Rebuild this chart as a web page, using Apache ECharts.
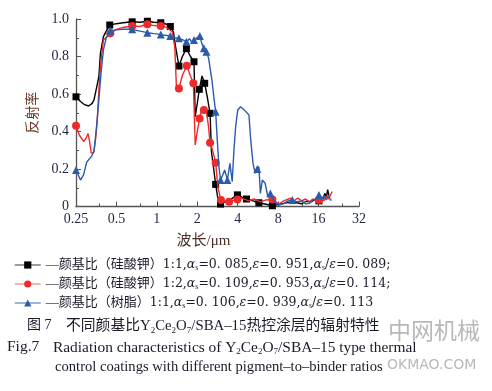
<!DOCTYPE html>
<html><head><meta charset="utf-8">
<script src="https://cdn.jsdelivr.net/npm/echarts@6/dist/echarts.min.js"></script>
<style>html,body{margin:0;padding:0;background:#fff}#c{width:492px;height:391px}</style>
</head><body><div id="c"></div>
<script>
// ---- data ----
const xTickLabels = ['0.25','0.5','1','2','4','8','16','32'];
const yTickLabels = ['0','0.2','0.4','0.6','0.8','1.0'];

// 颜基比(硅酸钾)1:1
const wlA = [0.25,0.27,0.29,0.31,0.33,0.34,0.355,0.37,0.38,0.40,0.43,0.446,0.5,0.56,0.655,0.75,0.85,0.95,1.07,1.15,1.26,1.33,1.38,1.46,1.55,1.66,1.78,1.89,1.93,2.0,2.07,2.17,2.27,2.38,2.49,2.55,2.65,2.74,2.85,2.98,3.2,3.5,3.98,4.3,4.65,5.2,5.75,6.5,7.25,8.0,9,10,11,12,13,14,15,16.1,16.6,17.2,17.8,18.3,18.7,19.1];
const rA  = [0.585,0.56,0.543,0.536,0.55,0.568,0.63,0.692,0.817,0.906,0.95,0.968,0.975,0.98,0.985,0.983,0.988,0.983,0.98,0.975,0.96,0.93,0.85,0.749,0.80,0.842,0.80,0.772,0.479,0.55,0.625,0.696,0.657,0.58,0.497,0.292,0.20,0.118,0.04,0.013,0.025,0.035,0.062,0.05,0.04,0.03,0.02,0.012,0.004,0.01,0.018,0.025,0.02,0.015,0.028,0.025,0.035,0.03,0.05,0.04,0.07,0.05,0.09,0.06];
const markA = [0.25,0.446,0.655,0.85,1.07,1.26,1.46,1.66,1.89,2.07,2.27,2.49,2.74,2.98,3.98,4.65,5.75,7.25,16.1];

// 颜基比(硅酸钾)1:2
const wlB = [0.25,0.265,0.285,0.30,0.307,0.315,0.325,0.34,0.35,0.36,0.37,0.38,0.40,0.45,0.5,0.56,0.655,0.75,0.85,0.95,1.07,1.18,1.30,1.36,1.40,1.46,1.55,1.67,1.77,1.87,1.93,2.0,2.08,2.16,2.24,2.35,2.42,2.49,2.6,2.74,2.85,3.0,3.2,3.45,3.98,4.3,4.8,5.3,5.9,6.5,7.25,8.1,8.8,9.9,10.5,11.2,12,12.8,13.7,14.5,15.3,16.1,16.8,17.5,18.3,19,19.6,20.2];
const rB  = [0.431,0.38,0.346,0.37,0.39,0.35,0.284,0.292,0.36,0.461,0.62,0.746,0.888,0.924,0.945,0.955,0.963,0.96,0.972,0.965,0.963,0.955,0.932,0.85,0.63,0.63,0.70,0.751,0.70,0.657,0.328,0.40,0.47,0.52,0.515,0.50,0.43,0.34,0.30,0.234,0.10,0.035,0.03,0.026,0.038,0.045,0.03,0.04,0.025,0.035,0.038,0.013,0.03,0.044,0.03,0.045,0.03,0.04,0.025,0.04,0.03,0.035,0.045,0.03,0.055,0.04,0.06,0.08];
const markB = [0.25,0.45,0.655,0.85,1.07,1.46,1.67,1.87,2.08,2.24,2.49,2.74,3.0,3.45,3.98,7.25,16.1];

// 颜基比(树脂)1:1
const wlC = [0.25,0.27,0.285,0.30,0.325,0.34,0.355,0.37,0.385,0.40,0.42,0.45,0.5,0.56,0.655,0.75,0.85,0.95,1.07,1.15,1.26,1.36,1.46,1.55,1.66,1.75,1.82,1.89,1.98,2.09,2.16,2.24,2.34,2.43,2.5,2.57,2.66,2.74,2.82,2.9,2.98,3.1,3.2,3.35,3.5,3.64,3.75,3.86,4.0,4.2,4.4,4.6,4.85,5.0,5.2,5.4,5.6,5.75,5.9,6.1,6.4,6.7,7.0,7.5,8.1,8.8,9.5,10.2,11,12,12.8,13.7,14.5,15.3,16.1,16.8,17.5,18.3,19,19.6,20];
const rC  = [0.195,0.141,0.17,0.236,0.266,0.292,0.42,0.568,0.72,0.835,0.90,0.938,0.942,0.945,0.945,0.935,0.927,0.922,0.918,0.913,0.909,0.90,0.897,0.89,0.879,0.895,0.875,0.888,0.90,0.909,0.87,0.844,0.826,0.79,0.73,0.675,0.58,0.506,0.35,0.212,0.141,0.17,0.195,0.141,0.23,0.132,0.30,0.426,0.515,0.532,0.52,0.506,0.488,0.355,0.23,0.177,0.20,0.212,0.07,0.141,0.124,0.052,0.07,0.026,0.008,0.015,0.03,0.035,0.025,0.03,0.015,0.017,0.035,0.04,0.061,0.04,0.055,0.035,0.06,0.035,0.035];
const markC = [0.25,0.45,0.655,0.85,1.07,1.26,1.46,1.66,1.89,2.09,2.24,2.34,2.74,2.98,3.35,5.6,7.0,10.2,16.1];

const names = ['A','B','C'];
const colors = ['#000000','#ee2a2a','#2b5cab'];
const legendLineColors = ['#7a7a7a','#f29a9a','#7f9ccc'];
const symbols = ['rect','circle','triangle'];
const symbolSizes = [7,8,8];
const legendTexts = [
  '—颜基比（硅酸钾）{n|1:1,}{i|α}{s|s}{n|=0. 085,}{i|ε}{n|=0. 951,}{i|α}{s|s}{n|/}{i|ε}{n|=0. 089;}',
  '—颜基比（硅酸钾）{n|1:2,}{i|α}{s|s}{n|=0. 109,}{i|ε}{n|=0. 953,}{i|α}{s|s}{n|/}{i|ε}{n|=0. 114;}',
  '—颜基比（树脂）{n|1:1,}{i|α}{s|s}{n|=0. 106,}{i|ε}{n|=0. 939,}{i|α}{s|s}{n|/}{i|ε}{n|=0. 113}'
];

function build(wl, r, marks){
  return wl.map((x,i)=>{
    const item = {value:[x, r[i]]};
    if (!marks.includes(x)) item.symbol = 'none';
    return item;
  });
}
const dataSets = [build(wlA,rA,markA), build(wlB,rB,markB), build(wlC,rC,markC)];

const serif = '"Liberation Serif","Noto Sans CJK SC",serif';
const dserif = '"DejaVu Serif","Noto Sans CJK SC",serif';
const txt = '#1a1a2a';
const chart = echarts.init(document.getElementById('c'), null, {renderer:'canvas'});
chart.setOption({
  animation:false,
  backgroundColor:'#fff',
  grid:{left:76, right:133, top:19, bottom:184.5},
  xAxis:{
    type:'log', logBase:2, min:0.25, max:32,
    name:'波长/μm', nameLocation:'middle', nameGap:27,
    nameTextStyle:{fontFamily:serif, fontSize:15, color:'#4a3028', padding:[0,28,0,0]},
    axisLine:{lineStyle:{color:'#555', width:1.3}},
    axisTick:{inside:true, length:5, lineStyle:{color:'#555'}},
    minorTick:{show:true, splitNumber:2, length:3, lineStyle:{color:'#555'}},
    splitLine:{show:false},
    axisLabel:{margin:6, fontFamily:serif, fontSize:14, color:'#1f2540',
      formatter:(v)=>{ const l = xTickLabels.find(t=>Math.abs(Number(t)-v)<1e-6); return l||''; }}
  },
  yAxis:{
    type:'value', min:0, max:1, interval:0.2,
    name:'反射率', nameLocation:'middle', nameRotate:90, nameGap:29,
    nameTextStyle:{fontFamily:serif, fontSize:14, color:'#6a3a2a'},
    axisLine:{show:true, lineStyle:{color:'#555', width:1.3}},
    axisTick:{show:true, inside:true, length:5, lineStyle:{color:'#555'}},
    minorTick:{show:true, splitNumber:2, length:3, lineStyle:{color:'#555'}},
    splitLine:{show:false},
    axisLabel:{margin:7, fontFamily:serif, fontSize:14, color:'#1f2540',
      formatter:(v,i)=>yTickLabels[i]}
  },
  legend:{
    orient:'vertical', left:14, top:258, padding:0, itemWidth:26, itemHeight:9, itemGap:5,
    data: names.map((n,i)=>({name:n, lineStyle:{color:legendLineColors[i], width:1.5}})),
    formatter:(n)=>legendTexts[names.indexOf(n)],
    textStyle:{fontFamily:serif, fontSize:13, color:txt, lineHeight:14,
      rich:{
        n:{fontFamily:dserif, fontSize:12.5, color:txt, lineHeight:14},
        i:{fontStyle:'italic', fontFamily:dserif, fontSize:12.5, color:txt, lineHeight:14},
        s:{fontSize:8, fontFamily:serif, color:txt, verticalAlign:'bottom', lineHeight:9}
      }}
  },
  series: names.map((n,i)=>({
    name:n, type:'line', data:dataSets[i],
    symbol:symbols[i], symbolSize:symbolSizes[i], showSymbol:true,
    lineStyle:{color:colors[i], width:1.4},
    itemStyle:{color:colors[i]},
    z: 2+i
  })),
  graphic:[
    {type:'text', left:27, top:318, style:{
      text:'图 7', font:'14px '+serif, fill:txt}},
    {type:'text', left:66, top:318, style:{
      text:'不同颜基比Y{s|2}Ce{s|2}O{s|7}/SBA–15热控涂层的辐射特性',
      font:'14.8px '+serif, fill:txt, lineHeight:17,
      rich:{s:{fontSize:9, fontFamily:serif, fill:txt, verticalAlign:'bottom', lineHeight:11}}}},
    {type:'text', left:7, top:339, style:{
      text:'Fig.7', font:'15.5px '+serif, fill:txt}},
    {type:'text', left:53, top:339, style:{
      text:'Radiation characteristics of Y{s|2}Ce{s|2}O{s|7}/SBA–15 type thermal',
      font:'15.4px '+serif, fill:txt, lineHeight:17,
      rich:{s:{fontSize:9, fontFamily:serif, fill:txt, verticalAlign:'bottom', lineHeight:11}}}},
    {type:'text', left:55, top:360, style:{
      text:'control coatings with different pigment–to–binder ratios',
      font:'14.6px '+serif, fill:txt}},
    {type:'text', left:388, top:319, style:{
      text:'中网机械', font:'23px "Noto Sans CJK SC",sans-serif', fill:'#b8b8b8'}},
    {type:'text', left:387, top:358, style:{
      text:'OKMAO.COM', font:'14px "DejaVu Sans",sans-serif', fill:'#b8b8b8'}}
  ]
});
</script></body></html>
